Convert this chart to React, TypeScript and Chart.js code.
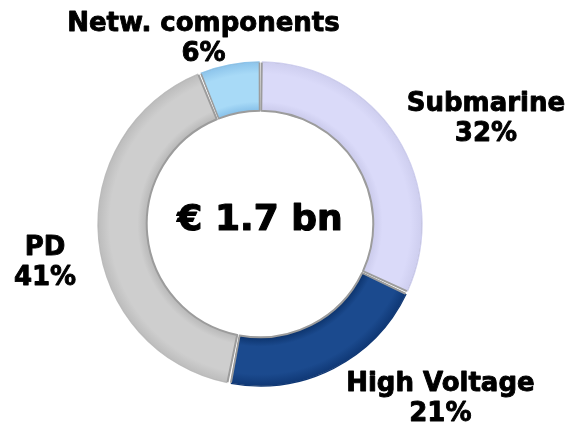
import React, { useEffect, useRef } from "react";
import { Chart, registerables } from "chart.js";

Chart.register(...registerables);

const categories = ["Submarine", "High Voltage", "PD", "Netw. components"];
const shares = [32, 21, 41, 6];
const shareLabels = ["32%", "21%", "41%", "6%"];
const centerLabel = "€ 1.7 bn";
// inner edge, middle, outer edge shades per segment
const segmentShades = [
  ["#c9c9ea", "#dadaf9", "#cdcdee"],
  ["#0b3169", "#1b4a8e", "#0e3673"],
  ["#b6b6b6", "#cecece", "#bbbbbb"],
  ["#84bee8", "#a8daf7", "#8ac2ea"],
];

const FONT = "'DejaVu Sans', Verdana, sans-serif";

// label block centers, in units of outer radius, relative to ring center
const labelPlacement = [
  [1.399, -0.65],
  [1.117, 1.086],
  [-1.331, 0.245],
  [-0.35, -1.147],
];

const labelsPlugin = {
  id: "ringLabels",
  afterDraw(chart: any) {
    const meta = chart.getDatasetMeta(0);
    const arc0 = meta.data[0];
    if (!arc0) return;
    const { x: cx, y: cy, outerRadius } = arc0;
    const ctx = chart.ctx;
    ctx.save();
    ctx.fillStyle = "#000";
    ctx.strokeStyle = "#000";
    ctx.lineJoin = "round";
    ctx.textAlign = "center";
    ctx.textBaseline = "middle";
    const put = (t: string, x: number, y: number, w: number) => {
      ctx.lineWidth = w;
      ctx.strokeText(t, x, y);
      ctx.fillText(t, x, y);
    };
    ctx.font = `bold 26px ${FONT}`;
    categories.forEach((cat, i) => {
      const [rx, ry] = labelPlacement[i];
      const bx = cx + rx * outerRadius;
      const by = cy + ry * outerRadius;
      put(cat, bx, by - 15, 0.9);
      put(shareLabels[i], bx, by + 15, 0.9);
    });
    ctx.font = `bold 36px ${FONT}`;
    put(centerLabel, cx, cy - 3, 1.2);
    ctx.restore();
  },
};

function shade(ctx: any) {
  const chart = ctx.chart;
  const i = ctx.dataIndex ?? 0;
  const s = segmentShades[i];
  const area = chart.chartArea;
  if (!area) return s[1];
  const cx = (area.left + area.right) / 2;
  const cy = (area.top + area.bottom) / 2;
  const r = Math.min(area.right - area.left, area.bottom - area.top) / 2;
  const g = chart.ctx.createRadialGradient(cx, cy, r * 0.69, cx, cy, r);
  g.addColorStop(0, s[0]);
  g.addColorStop(0.2, s[1]);
  g.addColorStop(0.75, s[1]);
  g.addColorStop(1, s[2]);
  return g;
}

export default function App() {
  const ref = useRef<HTMLCanvasElement>(null);
  useEffect(() => {
    if (!ref.current) return;
    const chart = new Chart(ref.current, {
      type: "doughnut",
      data: {
        labels: categories,
        datasets: [
          {
            data: shares,
            backgroundColor: shade as any,
            borderColor: "#9c9c9c",
            borderWidth: 1,
            borderAlign: "inner",
            spacing: 3,
          },
        ],
      },
      options: {
        responsive: false,
        maintainAspectRatio: false,
        animation: false,
        cutout: "69%",
        rotation: 0,
        layout: { padding: { left: 97, right: 150, top: 61, bottom: 40 } },
        plugins: {
          legend: { display: false },
          tooltip: { enabled: false },
        },
      },
      plugins: [labelsPlugin],
    });
    return () => chart.destroy();
  }, []);
  return (
    <div style={{ position: "fixed", left: 0, top: 0, width: 573, height: 427, background: "#fff" }}>
      <canvas ref={ref} width={573} height={427} style={{ width: 573, height: 427 }} />
    </div>
  );
}
